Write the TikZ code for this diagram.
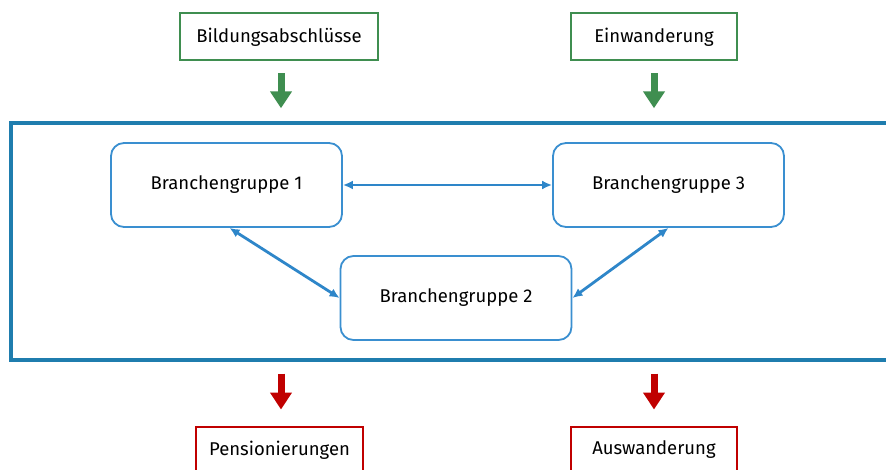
\documentclass[tikz,border=0pt]{standalone}
\usepackage{fontspec}
\setmainfont{Fira Sans}
\usetikzlibrary{arrows.meta,positioning}

\definecolor{rahmenblau}{HTML}{1F7DAE}
\definecolor{knotenblau}{HTML}{3A8FD0}
\definecolor{pfeilblau}{HTML}{2E86C9}
\definecolor{zugruen}{HTML}{3F8E50}
\definecolor{abrot}{HTML}{C00000}

\begin{document}
\begin{tikzpicture}[
      x=1pt, y=-1pt,
      font=\fontsize{18.5}{22}\selectfont,
      zufluss/.style ={rectangle, draw=zugruen, line width=2pt, fill=white,
                       minimum height=47pt, inner xsep=6pt},
      abfluss/.style ={rectangle, draw=abrot, line width=2pt, fill=white,
                       minimum height=47pt, inner xsep=6pt},
      branche/.style ={rectangle, rounded corners=13pt, draw=knotenblau, line width=1.8pt,
                       fill=white, minimum width=231pt, minimum height=84pt},
      rahmen/.style  ={rectangle, draw=rahmenblau, line width=3.4pt,
                       minimum width=879pt, minimum height=237pt},
      gruenpfeil/.style={-{Triangle[width=21pt,length=17pt]}, draw=zugruen, line width=7pt},
      rotpfeil/.style  ={-{Triangle[width=21pt,length=17pt]}, draw=abrot, line width=7pt},
      wechsel/.style   ={{Latex[length=10pt,width=9pt]}-{Latex[length=10pt,width=9pt]},
                         draw=pfeilblau, line width=2.8pt}
    ]
    \clip (0,0) rectangle (886,470);
    % --- Rahmen ---
    \node[rahmen] (frame) at (450.5,241.5) {};
    % --- Zu- und Abfluesse ---
    \node[zufluss, minimum width=198pt] (bild) at (279,37)  {Bildungsabschlüsse};
    \node[zufluss, minimum width=166pt] (einw) at (654,37)  {Einwanderung};
    \node[abfluss, minimum width=167pt] (pens) at (279.5,450) {Pensionierungen};
    \node[abfluss, minimum width=166pt] (ausw) at (654,450) {Auswanderung};
    % --- Branchengruppen ---
    \node[branche] (bg1) at (226.5,185) {Branchengruppe 1};
    \node[branche] (bg3) at (668.5,185) {Branchengruppe 3};
    \node[branche] (bg2) at (456,298)   {Branchengruppe 2};
    % --- Pfeile ---
    \draw[gruenpfeil, shorten <=12pt, shorten >=13pt] ([xshift=2pt]bild.south) -- ([xshift=2pt]bild.south |- frame.north);
    \draw[gruenpfeil, shorten <=12pt, shorten >=13pt] (einw.south) -- (einw.south |- frame.north);
    \draw[rotpfeil, shorten <=12pt, shorten >=16pt] ([xshift=1.5pt]pens.north |- frame.south) -- ([xshift=1.5pt]pens.north);
    \draw[rotpfeil, shorten <=12pt, shorten >=16pt] (ausw.north |- frame.south) -- (ausw.north);
    \draw[wechsel] (bg1.east) -- (bg3.west);
    \draw[wechsel] ([xshift=3pt]bg1.south) -- (bg2.west);
    \draw[wechsel] (bg3.south) -- (bg2.east);
\end{tikzpicture}
\end{document}
